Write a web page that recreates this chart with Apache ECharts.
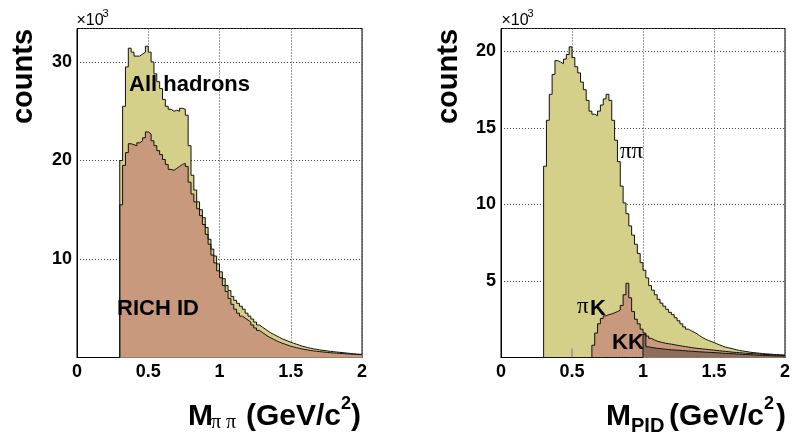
<!DOCTYPE html>
<html>
<head>
<meta charset="utf-8">
<script src="https://cdn.jsdelivr.net/npm/echarts@6/dist/echarts.min.js"></script>
<style>html,body{margin:0;padding:0;background:#fff}#c{width:793px;height:442px}</style>
</head>
<body>
<div id="c"></div>
<script>
// Histogram binning (GeV/c^2): bins of width 0.02 starting at 0.30, values in units of 10^3 counts
const BIN_START = 0.30;
const BIN_WIDTH = 0.02;

// Left panel: M_pipi
const allHadrons = [
  20.0, 25.5, 29.5, 31.4, 31.0, 30.6, 30.6, 30.8, 31.0, 31.6,
  31.0, 30.0, 28.8, 28.0, 27.3, 26.2, 25.5, 25.2, 25.0, 25.1,
  25.0, 25.3, 25.2, 24.6, 21.5, 18.5, 17.0, 15.8, 15.0, 14.2,
  13.2, 12.0, 11.0, 10.3, 9.5, 8.7, 8.0, 7.3, 6.8, 6.2,
  5.8, 5.5, 5.2, 4.9, 4.5, 4.2, 3.9, 3.6, 3.3, 3.1,
  2.9, 2.7, 2.5, 2.35, 2.2, 2.05, 1.9, 1.78, 1.66, 1.55,
  1.45, 1.35, 1.25, 1.15, 1.08, 1.0, 0.94, 0.88, 0.83, 0.78,
  0.74, 0.70, 0.66, 0.62, 0.59, 0.56, 0.53, 0.50, 0.47, 0.44,
  0.41, 0.38, 0.35, 0.33, 0.30
];
const richId = [
  15.5, 19.5, 20.8, 21.7, 21.6, 21.5, 21.8, 22.0, 22.3, 22.9,
  22.7, 22.0, 21.5, 21.0, 20.6, 20.1, 19.6, 19.1, 19.0, 19.2,
  19.4, 19.6, 19.7, 19.4, 17.8, 16.6, 15.8, 15.1, 14.4, 13.5,
  12.5, 11.5, 10.4, 9.6, 8.8, 8.1, 7.3, 6.7, 6.0, 5.4,
  4.9, 4.5, 4.2, 4.0, 3.8, 3.6, 3.3, 3.0, 2.75, 2.55,
  2.35, 2.15, 2.0, 1.85, 1.7, 1.57, 1.45, 1.35, 1.25, 1.15,
  1.07, 1.0, 0.93, 0.87, 0.81, 0.76, 0.71, 0.67, 0.63, 0.60,
  0.57, 0.54, 0.51, 0.48, 0.46, 0.44, 0.42, 0.40, 0.38, 0.36,
  0.34, 0.33, 0.31, 0.30, 0.28
];

// Right panel: M_PID
const pipi = [
  12.5, 15.5, 17.2, 18.5, 19.4, 19.3, 19.2, 19.5, 19.8, 20.3,
  19.6, 19.0, 18.6, 18.0, 17.5, 16.8, 16.1, 15.9, 15.8, 16.1,
  16.5, 16.9, 17.2, 16.8, 15.5, 14.2, 12.8, 11.2, 10.1, 9.4,
  8.6, 8.0, 7.4, 6.8, 6.2, 5.7, 5.2, 4.7, 4.4, 4.1,
  3.8, 3.55, 3.35, 3.15, 2.95, 2.8, 2.6, 2.4, 2.2, 2.0,
  1.85, 1.75, 1.65, 1.55, 1.42, 1.3, 1.2, 1.12, 1.05, 0.98,
  0.90, 0.82, 0.75, 0.68, 0.64, 0.60, 0.55, 0.50, 0.46, 0.43,
  0.40, 0.37, 0.34, 0.32, 0.30, 0.28, 0.26, 0.24, 0.23, 0.22,
  0.20, 0.19, 0.18, 0.17, 0.16
];
const piK = [
  0, 0, 0, 0, 0, 0, 0, 0, 0, 0,
  0, 0, 0, 0, 0, 0, 0, 0.8, 1.6, 2.2,
  2.55, 2.72, 2.8, 2.85, 2.92, 3.0, 3.1, 3.4, 4.1, 4.85,
  3.9, 3.0, 2.5, 2.2, 1.85, 1.6, 1.4, 1.25, 1.15, 1.07,
  1.02, 0.97, 0.93, 0.90, 0.87, 0.84, 0.80, 0.77, 0.74, 0.71,
  0.68, 0.65, 0.62, 0.60, 0.58, 0.56, 0.54, 0.52, 0.50, 0.48,
  0.46, 0.44, 0.42, 0.40, 0.38, 0.36, 0.34, 0.33, 0.31, 0.30,
  0.28, 0.27, 0.26, 0.25, 0.24, 0.22, 0.21, 0.20, 0.19, 0.18,
  0.17, 0.16, 0.15, 0.14, 0.13
];
const KK = [
  0, 0, 0, 0, 0, 0, 0, 0, 0, 0,
  0, 0, 0, 0, 0, 0, 0, 0, 0, 0,
  0, 0, 0, 0, 0, 0, 0, 0, 0, 0,
  0, 0, 0, 0, 0, 1.5, 0.70, 0.66, 0.63, 0.60,
  0.58, 0.56, 0.54, 0.52, 0.50, 0.49, 0.48, 0.47, 0.45, 0.44,
  0.42, 0.41, 0.40, 0.38, 0.37, 0.36, 0.35, 0.34, 0.33, 0.32,
  0.31, 0.30, 0.28, 0.27, 0.26, 0.25, 0.24, 0.23, 0.22, 0.21,
  0.20, 0.19, 0.18, 0.17, 0.16, 0.15, 0.14, 0.13, 0.13, 0.12,
  0.11, 0.11, 0.10, 0.10, 0.09
];
// thin isolated entry seen near 0.5 GeV/c^2 in the right panel: [mass, counts(10^3)]
const pidSpike = [0.50, 0.6];

// Axis tick values
const xTicks = [0, 0.5, 1, 1.5, 2];
const leftYTicks = [10, 20, 30];
const rightYTicks = [5, 10, 15, 20];

const COL_YELLOW = '#d4d08a';
const COL_BROWN = '#c8997d';
const COL_DARK = '#8f6d5e';
const SANS = '"Liberation Sans", Arial, Helvetica, sans-serif';
const SERIF = '"Liberation Serif", "DejaVu Serif", serif';

function histPoints(values) {
  const pts = [[BIN_START, 0]];
  values.forEach((v, i) => pts.push([+(BIN_START + i * BIN_WIDTH).toFixed(3), v]));
  pts.push([+(BIN_START + values.length * BIN_WIDTH).toFixed(3), values[values.length - 1]]);
  return pts;
}

function histSeries(values, color, idx) {
  return {
    type: 'line', xAxisIndex: idx, yAxisIndex: idx,
    data: histPoints(values), step: 'end', symbol: 'none', clip: true,
    lineStyle: { color: '#111', width: 1 },
    areaStyle: { color: color, opacity: 1 },
    silent: true
  };
}

function xAxis(gi) {
  return {
    type: 'value', gridIndex: gi, min: 0, max: 2, interval: 0.5,
    axisLine: { show: true, onZero: false, lineStyle: { color: '#000', width: 1 } },
    axisTick: { show: false },
    axisLabel: {
      color: '#000', fontFamily: SANS, fontWeight: 'bold', fontSize: 18, margin: 6,
      formatter: v => (xTicks.indexOf(+v.toFixed(2)) >= 0 ? String(+v.toFixed(2)) : '')
    },
    splitLine: { show: true, lineStyle: { color: '#444', type: [1, 2], width: 1 } }
  };
}
function yAxis(gi, max, interval, ticks) {
  return {
    type: 'value', gridIndex: gi, min: 0, max: max, interval: interval,
    axisLine: { show: true, lineStyle: { color: '#000', width: 1 } },
    axisTick: { show: false },
    axisLabel: {
      color: '#000', fontFamily: SANS, fontWeight: 'bold', fontSize: 18, margin: 5,
      showMaxLabel: false,
      formatter: v => (ticks.indexOf(Math.round(v * 100) / 100) >= 0 ? String(v) : '')
    },
    splitLine: { show: true, lineStyle: { color: '#444', type: [1, 2], width: 1 } }
  };
}

function txt(x, y, text, size, opts) {
  opts = opts || {};
  return {
    type: 'text', x: x, y: y, rotation: opts.rotation || 0, z: 100,
    style: {
      text: text, fill: '#000',
      fontFamily: opts.family || SANS,
      fontWeight: opts.weight || 'bold',
      fontStyle: opts.style || 'normal',
      fontSize: size,
      align: opts.align || 'left',
      verticalAlign: 'middle'
    }
  };
}

const chart = echarts.init(document.getElementById('c'), null, { renderer: 'canvas' });
chart.setOption({
  animation: false,
  backgroundColor: '#fff',
  grid: [
    { left: 77, top: 28.5, width: 285, height: 329, show: true, borderColor: '#000', borderWidth: 1, backgroundColor: 'transparent' },
    { left: 501, top: 28.5, width: 286, height: 329, show: true, borderColor: '#000', borderWidth: 1, backgroundColor: 'transparent' }
  ],
  xAxis: [xAxis(0), xAxis(1)],
  yAxis: [yAxis(0, 33.4, 10, leftYTicks), yAxis(1, 21.5, 5, rightYTicks)],
  series: [
    histSeries(allHadrons, COL_YELLOW, 0),
    histSeries(richId, COL_BROWN, 0),
    histSeries(pipi, COL_YELLOW, 1),
    histSeries(piK, COL_BROWN, 1),
    histSeries(KK, COL_DARK, 1),
    {
      type: 'line', xAxisIndex: 1, yAxisIndex: 1, symbol: 'none', silent: true,
      data: [[pidSpike[0], 0], [pidSpike[0], pidSpike[1]]],
      lineStyle: { color: '#777', width: 1 }
    }
  ],
  graphic: [
    txt(24, 76.5, 'counts', 29, { rotation: Math.PI / 2, align: 'center' }),
    txt(449, 76.5, 'counts', 29, { rotation: Math.PI / 2, align: 'center' }),
    txt(76.5, 20.5, '\u00d710', 16, { weight: 'normal' }),
    txt(102.5, 14, '3', 11, { weight: 'normal' }),
    txt(501.5, 20.5, '\u00d710', 16, { weight: 'normal' }),
    txt(527.5, 14, '3', 11, { weight: 'normal' }),
    // left x title
    txt(188, 416.5, 'M', 30),
    txt(211, 423, '\u03c0 \u03c0', 20, { family: SERIF, weight: 'normal' }),
    txt(246, 416.5, '(GeV/c', 30),
    txt(341, 404, '2', 18),
    txt(351, 416.5, ')', 30),
    // right x title
    txt(606, 416.5, 'M', 30),
    txt(631, 426, 'PID', 20),
    txt(669, 416.5, '(GeV/c', 30),
    txt(764, 404, '2', 18),
    txt(776, 416.5, ')', 30),
    // in-plot labels
    txt(129, 85, 'All hadrons', 22),
    txt(117, 309, 'RICH ID', 22),
    txt(620, 152, '\u03c0\u03c0', 23, { family: SERIF, weight: 'normal' }),
    txt(577, 306.5, '\u03c0', 23, { family: SERIF, weight: 'normal' }),
    txt(590, 309, 'K', 22),
    txt(612, 342.5, 'KK', 22)
  ]
});
</script>
</body>
</html>
